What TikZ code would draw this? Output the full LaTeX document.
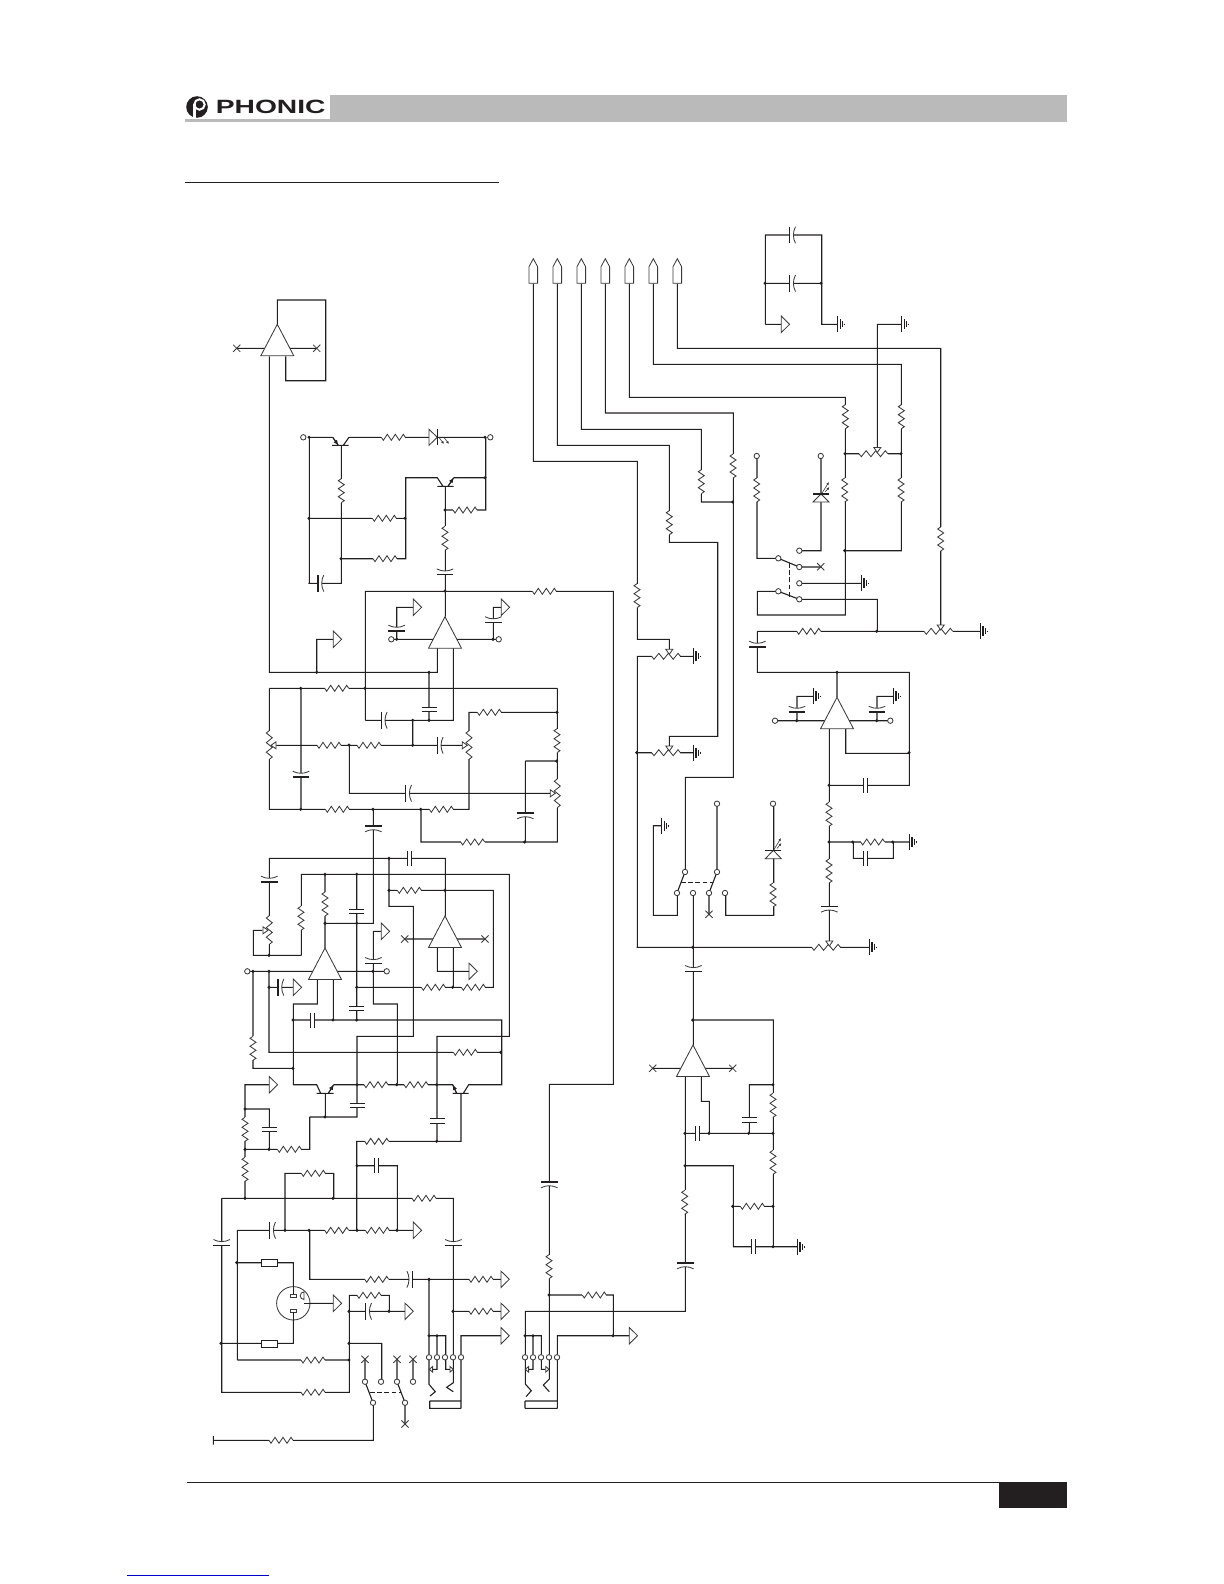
\documentclass[tikz,border=0pt]{standalone}
\usepackage{graphicx}
\usepackage{fontspec}
\setmainfont{Liberation Sans}
\usetikzlibrary{arrows.meta}
\definecolor{ink}{HTML}{231F20}
\definecolor{soft}{HTML}{3A3A3A}
\tikzset{
  wire/.style={draw=ink,line width=.55pt,line cap=butt,line join=miter},
  thinw/.style={draw=soft,line width=.42pt},
  dashw/.style={draw=ink,line width=.55pt,dash pattern=on 2.4pt off 1.2pt},
  tip/.style={draw=ink,line width=.4pt,-{Latex[length=2.6pt,width=2.2pt]}},
  ledtip/.style={draw=soft,line width=.3pt,-{Latex[length=1.5pt,width=1.3pt]}},
  resz/.pic={\draw[white,line width=1.5pt](-12,0)--(12,0);
    \draw[thinw](-12,0)--(-10,3)--(-6,-3)--(-2,3)--(2,-3)--(6,3)--(10,-3)--(12,0);},
  capd/.pic={\draw[white,line width=1.5pt](-2.2,0)--(2.2,0);
    \draw[wire](-2.2,-7.5)--(-2.2,7.5)(2.2,-7.5)--(2.2,7.5);},
  capp/.pic={\draw[white,line width=1.5pt](-2,0)--(2,0);
    \draw[wire](-2,-8.3)--(-2,8.3);
    \draw[thinw](3.8,-8.3)..controls(1,-3)and(1,3)..(3.8,8.3);},
  portz/.pic={\draw[thinw,fill=white](0,-8.2)--(8.3,0)--(0,8.2)--cycle;},
  wipz/.pic={\draw[thinw,fill=white](0,0)--(-5,-3.5)--(-5,3.5)--cycle;},
  wipy/.pic={\draw[thinw,fill=white](0,0)--(-3.3,-2.8)--(-3.3,2.8)--cycle;},
  gndz/.pic={\draw[wire](0,-8)--(0,8)(2.7,-5)--(2.7,5)(4.8,-3)--(4.8,3)(7,-.8)--(7,.8);},
  crossz/.pic={\draw[thinw](-3.6,-3.6)--(3.6,3.6)(-3.6,3.6)--(3.6,-3.6);}
}
\newcommand\Rh[2]{\pic at (#1,#2) {resz};}
\newcommand\Rv[2]{\pic[rotate=90] at (#1,#2) {resz};}
\newcommand\Pt[3]{\pic[rotate=#3,xscale=1.2] at (#1,#2) {resz};}
\newcommand\CR[2]{\pic at (#1,#2) {capp};}
\newcommand\CL[2]{\pic[rotate=180] at (#1,#2) {capp};}
\newcommand\CT[2]{\pic[rotate=90] at (#1,#2) {capp};}
\newcommand\CB[2]{\pic[rotate=-90] at (#1,#2) {capp};}
\newcommand\Dh[2]{\pic at (#1,#2) {capd};}
\newcommand\Dv[2]{\pic[rotate=90] at (#1,#2) {capd};}
\newcommand\Prt[2]{\pic at (#1,#2) {portz};}
\newcommand\Wp[3]{\pic[rotate=#3] at (#1,#2) {wipz};}
\newcommand\Wq[3]{\pic[rotate=#3] at (#1,#2) {wipy};}
\newcommand\Gd[2]{\pic at (#1,#2) {gndz};}
\newcommand\Xm[2]{\pic at (#1,#2) {crossz};}
\newcommand\Op[2]{\draw[thinw,fill=white] (#1,#2)--++(16.5,31.5)--++(-33,0)--cycle;}
\newcommand\Oc[2]{\draw[thinw,fill=white] (#1,#2) circle[radius=2.7];}
\newcommand\Dt[2]{\fill[ink] (#1,#2) circle[radius=1.7];}
\newcommand\Up[1]{\draw[thinw,fill=white] (#1-4.3,283.3)--(#1-4.3,266.7)--(#1,258.7)--(#1+4.3,266.7)--(#1+4.3,283.3)--cycle;}
\begin{document}
\begin{tikzpicture}[x=.5pt,y=-.5pt]
\useasboundingbox (0,0) rectangle (1224,1584);
% header
\fill[black!27] (330,95) rectangle (1066.7,121.7);
\fill[black!27] (185,119) rectangle (330,121.7);
\fill[ink] (197,107) circle[radius=10.8];
\draw[white,line width=1pt] (199.5,104.5) circle[radius=5.2];
\draw[white,line width=1.2pt] (194.3,104.5)--(194.3,118);
\node[anchor=west,inner sep=0pt,text=ink] (brand) at (215.4,106.7)
  {\scalebox{1.47}[1]{\fontsize{9.6pt}{10pt}\selectfont\bfseries PHONIC}};
\draw[wire] (185,182.3)--(499,182.3);
% footer
\draw[wire] (187,1482.3)--(999,1482.3);
\fill[ink] (999,1482.3) rectangle (1066.7,1508.3);
\draw[blue!80!black,line width=.7pt] (127.3,1575.3)--(269,1575.3);
% ---- wires
\draw[wire]
 % A1
 (277.3,324.3)--(277.3,300)--(325.7,300)--(325.7,380.7)--(285.7,380.7)--(285.7,356.3)
 (269.3,356.3)--(269.3,672.3)--(437.3,672.3)--(437.3,647.7)
 (236.7,348.3)--(316.7,348.3)
 % T1 T2
 (309,437.3)--(332.7,437.3)
 (332,445.3)--(348.7,445.3)
 (349,437.3)--(343.3,445.3)
 (349,437.3)--(485,437.3)
 (341.3,445.3)--(341.3,583.3)--(308.3,583.3)
 (309.3,437.3)--(309.3,583.3)
 (309,518.3)--(405.7,518.3)
 (341,558.7)--(405.7,558.7)--(405.7,477.7)--(437.3,477.7)--(443,486.3)
 (437.3,486.3)--(453.7,486.3)
 (485.7,477.7)--(453.7,477.7)
 (485.7,437.3)--(485.7,510)--(445.3,510)
 (445.3,486.3)--(445.3,616.7)
 % A2
 (365.3,720.3)--(365.3,591.3)--(613.3,591.3)--(613.3,1084.3)--(549.3,1084.3)--(549.3,1357.3)
 (365.3,720.3)--(453.3,720.3)--(453.3,647.7)
 (429,672.3)--(429,720.3)
 (316.7,672.3)--(316.7,639.3)--(333.3,639.3)
 (391.3,639.3)--(498.7,639.3)
 (396.7,639.3)--(396.7,607.3)--(413.3,607.3)
 (493.3,639.3)--(493.3,607.3)--(501.3,607.3)
 % filter
 (269.3,688.3)--(557.3,688.3)
 (269.3,688.3)--(269.3,809.3)--(469,809.3)--(469,712.3)--(557.3,712.3)
 (301,688.3)--(301,809.3)
 (275.7,745.3)--(462.3,745.3)
 (412.7,720.3)--(412.7,745.3)
 (349.3,745.3)--(349.3,793.3)--(550.7,793.3)
 (557.3,688.3)--(557.3,842)--(421,842)--(421,809.3)
 (525.3,761)--(557,761)
 (525.3,761)--(525.3,842)
 (373.3,809.3)--(373.3,923.3)--(325,923.3)
 % A3 A4
 (269.3,955.3)--(269.3,858.3)--(445.3,858.3)--(445.3,916)
 (389,858.3)--(389,906.3)--(413.3,906.3)--(413.3,1036.3)--(357,1036.3)--(357,1117)--(309.7,1117)
 (389,890.3)--(493.3,890.3)--(493.3,987.3)--(356.7,987.3)
 (404.7,939)--(485,939)
 (437.3,947.3)--(437.3,971.3)--(469,971.3)
 (453.3,947.3)--(453.3,987.3)
 (301.3,955.3)--(301.3,874.3)--(509.3,874.3)--(509.3,1036.3)--(437,1036.3)--(437,1141.3)
 (325,874.3)--(325,948)
 (356.7,874.3)--(356.7,1020)
 (301.3,955.3)--(253.3,955.3)--(253.3,930.3)--(262.3,930.3)
 (247.3,971.3)--(386.7,971.3)
 (373.3,971.3)--(373.3,931.3)--(381.3,931.3)
 (373.3,971.3)--(373.3,1004)--(397.3,1004)--(397.3,1084.7)
 (253,971.3)--(253,1068.3)--(293,1068.3)
 (269,971.3)--(269,1052.3)--(501.3,1052.3)
 (269,987.3)--(293.3,987.3)
 (317.3,979.7)--(317.3,1004)--(293.3,1004)--(293.3,1084.7)--(316.7,1084.7)--(320.7,1093.3)
 (293,1020)--(501.7,1020)--(501.7,1084.7)--(468.7,1084.7)--(463.3,1093.3)
 (333.3,979.7)--(333.3,1020)
 (316.7,1093.3)--(333.7,1093.3)
 (333.7,1084.7)--(452.7,1084.7)--(456.7,1093.3)
 (452.7,1093.3)--(468.7,1093.3)
 (325.3,1093.3)--(325.3,1117)
 (461,1093.3)--(461,1141.3)--(356.7,1141.3)--(356.7,1230.3)
 (309.7,1117)--(309.7,1149.3)--(245,1149.3)
 (269.3,1084.7)--(245,1084.7)--(245,1198.3)
 (245,1109)--(269.3,1109)--(269.3,1149.3)
 % input
 (221.7,1198.3)--(453.3,1198.3)--(453.3,1357.3)
 (221.7,1198.3)--(221.7,1392.3)--(349.3,1392.3)--(349.3,1295.3)--(389.3,1295.3)--(389.3,1311.3)
 (349,1311.3)--(405,1311.3)
 (349,1343.3)--(381.7,1343.3)--(381.7,1381.7)
 (237.3,1360)--(349,1360)
 (237.3,1360)--(237.3,1230.3)--(413.3,1230.3)
 (285,1230.3)--(285,1173.3)--(333.7,1173.3)--(333.7,1198.3)
 (357,1165.7)--(397.3,1165.7)--(397.3,1230.3)
 (309.7,1230.3)--(309.7,1279.3)--(501,1279.3)
 (429,1279.3)--(429,1384.3)--(435.3,1391.7)--(430,1396)
 (429,1335.7)--(445.7,1335.7)--(445.7,1369.3)--(450,1369.3)
 (437,1335.7)--(437,1369.3)--(432.3,1369.3)
 (453.3,1357.3)--(453.3,1382.7)--(446.7,1387.3)--(453.3,1391.7)
 (453,1311.3)--(501,1311.3)
 (461,1408.3)--(461,1335.7)--(501,1335.7)
 (429.7,1401)--(461,1401) (429,1408.3)--(461,1408.3) (429.7,1401)--(429.7,1408.3)
 (236.7,1262.7)--(293.3,1262.7)--(293.3,1294.3)
 (221,1343.3)--(293.3,1343.3)--(293.3,1312.3)
 (304,1303.3)--(333.3,1303.3)
 % input switch
 (365,1359.3)--(365,1381.7) (397,1359.3)--(397,1381.7) (413,1359.3)--(413,1381.7)
 (373,1402.7)--(365,1381.7) (405,1402.7)--(397,1381.7)
 (405,1402.7)--(405,1424)
 (373.3,1402.7)--(373.3,1440.3)--(213.3,1440.3)
 (213.3,1436)--(213.3,1444.7)
 % jack 2
 (525.3,1384)--(525.3,1311.3)--(685.3,1311.3)--(685.3,1076.3)
 (525.3,1384)--(531.3,1390.7)--(526,1396.7)
 (525,1335.7)--(541.3,1335.7)--(541.3,1369.3)--(545,1369.3)
 (533,1335.7)--(533,1369.3)--(528.3,1369.3)
 (549.3,1357.3)--(549.3,1379)--(543.3,1385)--(549.3,1391.7)
 (557.3,1408.3)--(557.3,1335.7)--(629.3,1335.7)
 (549,1295)--(613.3,1295)--(613.3,1335.7)
 (525,1401)--(557.3,1401) (525,1408.3)--(557.3,1408.3) (525,1401)--(525,1408.3)
 % A5
 (693.3,893)--(693.3,1045)
 (692.7,1020)--(773.3,1020)--(773.3,1246.7)
 (652.7,1068.3)--(732.7,1068.3)
 (701.3,1076.3)--(701.3,1101.3)--(709.3,1101.3)--(709.3,1133.3)
 (685,1133.3)--(773.3,1133.3)
 (749.3,1133.3)--(749.3,1084.7)--(773,1084.7)
 (685,1165.7)--(733.3,1165.7)--(733.3,1246.7)--(797.3,1246.7)
 (732.7,1206.3)--(773,1206.3)
 % right side
 (636.7,947.3)--(869.3,947.3)
 (637.3,947.3)--(637.3,656.3)--(693.3,656.3)
 (636.7,752.7)--(693.3,752.7)
 (533.3,283.3)--(533.3,461.3)--(637.3,461.3)--(637.3,639.3)--(669.3,639.3)--(669.3,649.3)
 (669.3,747)--(669.3,736.3)--(717.7,736.3)--(717.7,542.3)--(669.3,542.3)--(669.3,445.3)--(557.3,445.3)--(557.3,283.3)
 (581.3,283.3)--(581.3,429.3)--(701.3,429.3)--(701.3,502)--(733,502)
 (605.3,283.3)--(605.3,413)--(733.3,413)--(733.3,777.3)--(685.3,777.3)--(685.3,872)
 (629.3,283.3)--(629.3,397.3)--(845.3,397.3)--(845.3,615)--(757.3,615)--(757.3,591.3)--(778.3,591.3)
 (653.3,283.3)--(653.3,364.3)--(901.3,364.3)--(901.3,550.7)--(844.7,550.7)
 (845,453.7)--(901,453.7)
 (877.3,448)--(877.3,324.3)--(901.7,324.3)
 (677.3,283.3)--(677.3,348.3)--(940.7,348.3)--(940.7,625)
 (757.3,631.3)--(980.3,631.3)
 (877.3,631.3)--(877.3,599.3)--(799.3,599.3)
 (757.3,631.3)--(757.3,672.3)--(909.3,672.3)--(909.3,785.3)--(829,785.3)
 (837,672.3)--(837,697.3)
 (775,720.7)--(890.3,720.7)
 (797,720.7)--(797,696.3)--(813.3,696.3)
 (877,720.7)--(877,696.3)--(893.3,696.3)
 (829.3,728.7)--(829.3,941)
 (845.7,728.7)--(845.7,753.3)--(909,753.3)
 (829,842)--(909.3,842)
 (853.3,842)--(853.3,858.3)--(893.3,858.3)--(893.3,842)
 % upper switch
 (757,456)--(757,558.3)--(778.3,558.3)--(799.3,567)--(820.7,567)
 (821,456)--(821,550.7)--(799.3,550.7)
 (799.3,583.3)--(861.3,583.3)
 (778.3,591.3)--(799.3,599.3)
 % lower switch
 (685,872)--(677,893) (717,803.7)--(717,872)--(709,893)
 (709,893)--(709,914.3)
 (725.7,893)--(725.7,915.3)--(773.7,915.3)--(773.7,803.7)
 (677.3,893)--(677.3,915.3)--(653.3,915.3)--(653.3,825.7)--(661.7,825.7)
 % top caps
 (765.3,324.3)--(765.3,235)--(821.7,235)--(821.7,324.3)--(837.7,324.3)
 (765,283.3)--(821,283.3)
 (765.3,324.3)--(781.3,324.3);
\draw[dashw] (370,1392.3)--(401,1392.3) (789.3,563)--(789.3,596.7) (681,882.3)--(712.7,882.3);
% transistor arrows
\draw[tip] (332.7,437.3)--(338.3,445.3);
\draw[tip] (448,486.3)--(453.7,477.7);
\draw[tip] (328.3,1093.3)--(333.7,1084.7);
\draw[tip] (456.7,1093.3)--(452.7,1084.7);
\draw[wire] (332.7,437.3)--(338.3,445.3) (448,486.3)--(453.7,477.7) (328.3,1093.3)--(333.7,1084.7);
% LEDs
\draw[thinw,fill=white] (429,429.3)--(429,445.3)--(437.3,437.3)--cycle;
\draw[wire] (437.3,429.3)--(437.3,445.3);
\draw[ledtip] (439,437.5)--(444,444); \draw[ledtip] (444,437.5)--(449,444);
\draw[thinw,fill=white] (813,502)--(829,502)--(821,494)--cycle;
\draw[wire] (813,494)--(829,494);
\draw[ledtip] (822,493)--(829,482); \draw[ledtip] (825,492)--(829.5,487);
\draw[thinw,fill=white] (765.3,858.7)--(781.3,858.7)--(773.3,850.3)--cycle;
\draw[wire] (765.3,850.3)--(781.3,850.3);
\draw[ledtip] (774,849.5)--(781,838); \draw[ledtip] (777,848.5)--(781.5,843);
% ---- resistors
\Rh{393.3}{437.3}\Rv{341.3}{490.7}\Rh{384.3}{518.3}\Rh{385}{558.7}
\Rh{465}{510}\Rv{445}{538.3}\Rh{544.3}{591.3}
\Rh{336.7}{688.3}\Rh{329}{745.3}\Rh{369}{745.3}\Rh{489.3}{712.3}
\Rv{557}{740.7}\Rh{337.3}{809.3}\Rh{441.3}{809.3}\Rh{472.7}{842}
\Rh{409.3}{890.3}\Rh{433.3}{987.3}\Rh{473.3}{987.3}
\Rv{325}{904}\Rv{301}{918.3}\Rv{253}{1048.3}\Rh{465.3}{1052.3}
\Rh{376}{1084.7}\Rh{416}{1084.7}\Rh{376.7}{1141.3}
\Rv{245}{1129.3}\Rv{245}{1169.3}\Rh{289.3}{1149.3}
\Rh{424}{1198.3}\Rh{313.3}{1173.3}\Rh{336.7}{1230.3}\Rh{377.3}{1230.3}
\Rh{369}{1295.3}\Rh{313}{1360}\Rh{313}{1392.3}\Rh{376.7}{1279.3}
\Rh{481}{1279.3}\Rh{481}{1311.3}\Rh{281}{1440.3}
\Rv{549}{1266.7}\Rh{594.3}{1295}\Rv{684.7}{1202.3}
\Rv{773}{1105.3}\Rv{773}{1162.3}\Rh{752.3}{1206.3}
\Rv{829}{814.3}\Rv{829}{871}\Rh{872.7}{842}
\Rv{773}{895}
\Rv{637}{595.7}\Rv{669.3}{522.7}\Rv{701.3}{481.7}\Rv{733}{466}
\Rv{845.3}{416.7}\Rv{901.3}{416.7}\Rv{844.7}{490}\Rv{901}{490}
\Rv{756.7}{490}\Rv{940.7}{539}\Rh{808.7}{631.3}
% pots
\Pt{269.3}{745}{90}\Pt{469}{745}{90}\Pt{557.3}{793.3}{90}\Pt{269.3}{930}{90}
\Pt{666}{656.3}{0}\Pt{666}{752.7}{0}\Pt{873.3}{453.7}{0}\Pt{938.3}{631.3}{0}\Pt{826}{947.3}{0}
\Wp{271}{745.3}{180}\Wp{467.3}{745.3}{0}\Wp{555.3}{793.3}{0}\Wp{268}{930.3}{0}
\Wp{669.3}{654.3}{-90}\Wp{669.3}{751}{-90}\Wp{877.3}{452.5}{-90}\Wp{940.7}{630}{-90}\Wp{829.3}{946}{-90}
% ---- capacitors
\CR{320}{583.3}\CT{445}{572.7}\CR{383.3}{720.3}\Dv{429}{709.3}
\CT{396.7}{629}\CT{493.3}{620.5}\CR{439.3}{745.3}\CR{407.7}{793.3}
\CT{301}{775}\CB{525.3}{815}\CB{373.3}{828}
\Dh{409.3}{858.3}\CT{269.3}{880}\Dv{356.7}{911.7}\Dv{356.7}{1008.3}
\CT{373.3}{961.3}\CR{280}{987.3}\Dh{312.7}{1020}\Dv{357}{1105.3}\Dv{437}{1121}
\Dv{269.3}{1129.3}\Dh{376.7}{1165.7}\CT{221.7}{1243.3}\CR{271.7}{1230.3}
\CT{453.3}{1243.3}\CL{410.7}{1279.3}\CR{367.7}{1311.3}
\CB{549.3}{1184}\CB{685.3}{1265}\Dh{697.3}{1133.3}\Dv{749.3}{1120}\Dh{753.3}{1246.7}
\Dh{865.7}{785.3}\Dh{865.7}{858.3}\CB{829.3}{908.3}\CT{693.3}{969.3}
\CT{757.3}{645}\CT{797}{710}\CT{877}{710}\CR{791.7}{235}\CR{791.7}{283.3}
% ---- op amps
\Op{277.3}{324.3}\Op{445}{616.7}\Op{445}{916}\Op{325}{948}\Op{693}{1045}\Op{837}{697.3}
% ---- ports
\Prt{333.3}{639.3}\Prt{413.3}{607.3}\Prt{501.3}{607.3}\Prt{469}{971.3}\Prt{381.3}{931.3}
\Prt{293.3}{987.3}\Prt{269.3}{1084.7}\Prt{413.3}{1230.3}\Prt{333.3}{1303.3}\Prt{405}{1311.3}
\Prt{501}{1279.3}\Prt{501}{1311.3}\Prt{501}{1335.7}\Prt{629.3}{1335.7}\Prt{781.3}{324.3}
% small jack wipers
\Wq{429.3}{1369.3}{180}\Wq{453.3}{1369.3}{0}\Wq{525.3}{1369.3}{180}\Wq{549}{1369.3}{0}
% ---- grounds
\Gd{693.3}{656.3}\Gd{693.3}{752.7}\Gd{901.7}{324.3}\Gd{837.7}{324.3}\Gd{980.3}{631.3}
\Gd{861.3}{583.3}\Gd{813.3}{696.3}\Gd{893.3}{696.3}\Gd{909.3}{842}\Gd{869.3}{947.3}
\Gd{661.7}{825.7}\Gd{797.3}{1246.7}
% ---- crosses
\Xm{236.7}{348.3}\Xm{316.7}{348.3}\Xm{404.7}{939}\Xm{485}{939}\Xm{652.7}{1068.3}\Xm{732.7}{1068.3}
\Xm{365}{1359.3}\Xm{397}{1359.3}\Xm{413}{1359.3}\Xm{405}{1424}\Xm{820.7}{566.7}\Xm{709}{914.3}
% ---- mic connector
\draw[thinw,fill=white] (293.3,1303.3) circle[radius=16.7];
\draw[thinw,fill=white] (290,1294.3) rectangle (296.7,1297.7);
\draw[thinw,fill=white] (290,1309) rectangle (296.7,1312.3);
\draw[thinw] (304,1299.5) arc[start angle=90,end angle=270,radius=3.8] --cycle;
\draw[wire,fill=white] (261.3,1259.3) rectangle (277.3,1266.7);
\draw[wire,fill=white] (261.3,1340.3) rectangle (277.3,1347.7);
\draw[wire] (293.3,1262.7)--(293.3,1294.3) (293.3,1312.3)--(293.3,1343.3) (304,1303.3)--(333.3,1303.3);
% ---- output ports
\Up{533.3}\Up{557.3}\Up{581.3}\Up{605.3}\Up{629.3}\Up{653.3}\Up{677.3}
% ---- dots
\Dt{309}{437.3}\Dt{485}{437.3}\Dt{309}{518.3}\Dt{405}{518.3}\Dt{341}{558.7}\Dt{485}{477.7}\Dt{445}{510}
\Dt{445}{591}\Dt{316.7}{672.3}\Dt{429}{672.3}\Dt{396.7}{639.3}\Dt{493}{639.3}
\Dt{300.7}{688.3}\Dt{365}{688.3}\Dt{412.7}{720.3}\Dt{429}{720.3}\Dt{412.7}{745.3}\Dt{349}{745}
\Dt{557}{712.3}\Dt{556.7}{761}\Dt{300.7}{809.3}\Dt{373}{809.3}\Dt{420.7}{809.3}\Dt{524.7}{842}
\Dt{389}{858.3}\Dt{445}{890.3}\Dt{389}{890.3}\Dt{325}{874.3}\Dt{356.7}{874.3}\Dt{325}{923.3}\Dt{356.7}{923.3}
\Dt{269}{955.3}\Dt{253}{971.3}\Dt{269}{971.3}\Dt{373}{971.3}\Dt{269}{987.3}\Dt{356.7}{987.3}\Dt{452.7}{987.3}
\Dt{293}{1020}\Dt{333}{1020}\Dt{356.7}{1020}\Dt{500.7}{1052.3}\Dt{293}{1068.3}\Dt{357}{1084.7}\Dt{396.7}{1084.7}\Dt{436.7}{1084.7}
\Dt{325}{1117}\Dt{436.7}{1141.3}\Dt{245}{1109}\Dt{269}{1149.3}\Dt{245}{1149.3}\Dt{245}{1198.3}\Dt{333}{1198.3}
\Dt{357}{1165.7}\Dt{285}{1230.3}\Dt{309}{1230.3}\Dt{357}{1230.3}\Dt{397}{1230.3}\Dt{236.7}{1262.7}
\Dt{221}{1343.3}\Dt{349}{1311.3}\Dt{389}{1311.3}\Dt{349}{1343.3}\Dt{349}{1360}\Dt{429}{1279.3}\Dt{453}{1311.3}\Dt{429}{1335.7}\Dt{437}{1335.7}
\Dt{549}{1295}\Dt{613}{1335.7}\Dt{525}{1335.7}\Dt{533}{1335.7}
\Dt{692.7}{1020}\Dt{773}{1084.7}\Dt{685}{1133.3}\Dt{709}{1133.3}\Dt{748.7}{1133.3}\Dt{773}{1133.3}\Dt{685}{1165.7}
\Dt{732.7}{1206.3}\Dt{773}{1206.3}\Dt{773}{1246.7}\Dt{692.7}{947.3}
\Dt{829}{785.3}\Dt{829}{842}\Dt{852.7}{842}\Dt{892.7}{842}\Dt{909}{752.7}
\Dt{837}{672.3}\Dt{796.7}{720.7}\Dt{876.7}{720.7}\Dt{876.7}{631.3}
\Dt{732.7}{502}\Dt{636.7}{752.7}\Dt{845}{453.7}\Dt{901}{453.7}\Dt{844.7}{550.7}\Dt{765}{283.3}\Dt{821}{283.3}
% ---- open circles
\Oc{303.3}{437.3}\Oc{490.3}{437.3}\Oc{391.3}{639.3}\Oc{498.7}{639.3}\Oc{247.3}{971.3}\Oc{386.7}{971.3}
\Oc{429}{1357.3}\Oc{437}{1357.3}\Oc{445}{1357.3}\Oc{453}{1357.3}\Oc{461}{1357.3}
\Oc{525}{1357.3}\Oc{533}{1357.3}\Oc{541}{1357.3}\Oc{549}{1357.3}\Oc{557}{1357.3}
\Oc{365}{1381.7}\Oc{381}{1381.7}\Oc{397}{1381.7}\Oc{413}{1381.7}\Oc{373}{1402.7}\Oc{405}{1402.7}
\Oc{756.7}{456}\Oc{820.7}{456}\Oc{778.3}{558.3}\Oc{778.3}{591.3}
\Oc{799.3}{550.7}\Oc{799.3}{567}\Oc{799.3}{583.3}\Oc{799.3}{599.3}
\Oc{775}{720.7}\Oc{890.3}{720.7}
\Oc{685}{872}\Oc{717}{872}\Oc{677}{893}\Oc{693}{893}\Oc{709}{893}\Oc{725}{893}\Oc{717}{803.7}\Oc{773}{803.7}
\end{tikzpicture}
\end{document}
